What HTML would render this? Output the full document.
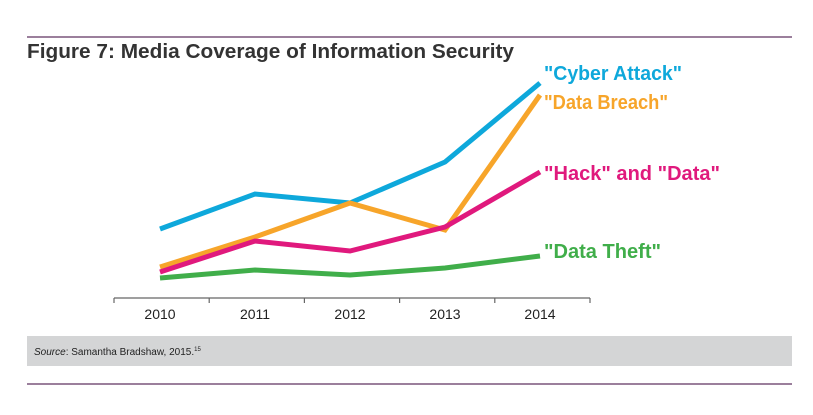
<!DOCTYPE html>
<html><head><meta charset="utf-8"><style>
body{margin:0;background:#fff;width:813px;height:410px;overflow:hidden;font-family:"Liberation Sans",sans-serif}
</style></head><body>
<svg width="813" height="410">
<line x1="27" y1="37" x2="792" y2="37" stroke="#9b7f9c" stroke-width="2"/>
<text x="27" y="58" font-size="20" font-weight="bold" fill="#333" textLength="487" lengthAdjust="spacingAndGlyphs">Figure 7: Media Coverage of Information Security</text>
<g id="axis"></g>
<g id="lines"></g>
<rect x="27" y="336" width="765" height="30" fill="#d4d5d6"/>
<text x="34" y="355" font-size="10" fill="#222"><tspan font-style="italic">Source</tspan>: Samantha Bradshaw, 2015.<tspan font-size="6" dy="-4">15</tspan></text>
<line x1="27" y1="384" x2="792" y2="384" stroke="#9b7f9c" stroke-width="2"/>
</svg>
<script>
const categories=["2010","2011","2012","2013","2014"];
const seriesNames=['"Cyber Attack"','"Data Breach"','"Hack" and "Data"','"Data Theft"'];
const cyberAttack=[71,106,97,138,217];
const dataBreach=[33,63,97,70,205];
const hackData=[28,59,49,73,128];
const dataTheft=[22,30,25,32,44];
const colors=["#0ea8db","#f7a52a","#e0197d","#40ae4a"];
const labelOffsets=[-3,14,8,2];
const labelWidths=[138,124,176,117];
const NS="http://www.w3.org/2000/svg";
const x=i=>160+i*95;
const y=v=>300-v;
const axis=document.getElementById('axis');
function mk(t,a,p){const e=document.createElementNS(NS,t);for(const k in a)e.setAttribute(k,a[k]);p.appendChild(e);return e;}
const al=mk('line',{x1:114,y1:298,x2:590,y2:298,stroke:'#666','stroke-width':1.2},axis);


for(let i=0;i<=categories.length;i++){
  const t=mk('line',{x1:114+i*95.2,y1:298,x2:114+i*95.2,y2:303,stroke:'#666','stroke-width':1.2},axis);
  
  
}
categories.forEach((c,i)=>{
  const t=mk('text',{x:x(i),y:319,'font-size':14,'text-anchor':'middle',fill:'#222'},axis);
  t.textContent=c;
  
  
});
const g=document.getElementById('lines');
[cyberAttack,dataBreach,hackData,dataTheft].forEach((s,k)=>{
  const p=mk('polyline',{points:s.map((v,i)=>x(i)+','+y(v)).join(' '),fill:'none',stroke:colors[k],'stroke-width':5,'stroke-linejoin':'miter'},g);
  
  
  const l=mk('text',{x:544,y:y(s[s.length-1])+labelOffsets[k],'font-size':20,'font-weight':'bold',fill:colors[k],textLength:labelWidths[k],lengthAdjust:'spacingAndGlyphs'},g);
  l.textContent=seriesNames[k];
  
  
});
</script>
</body></html>
